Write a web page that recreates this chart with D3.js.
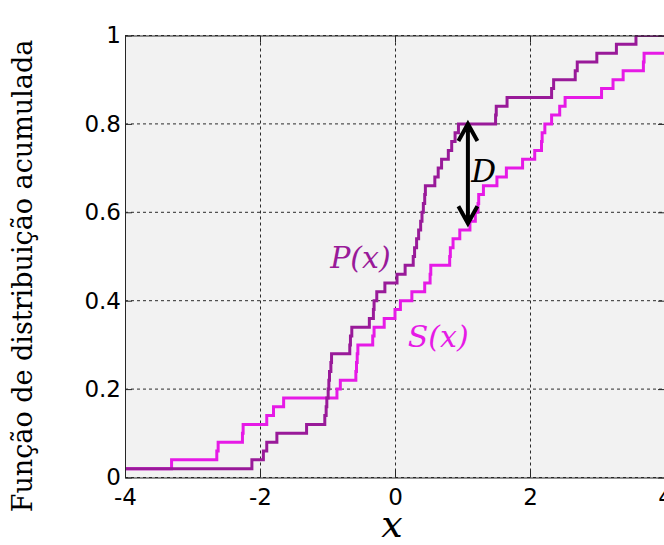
<!DOCTYPE html>
<html>
<head>
<meta charset="utf-8">
<script src="https://cdn.jsdelivr.net/npm/d3@7"></script>
<style>
  body { margin: 0; background: #fff; }
  svg { display: block; }
  .tick text { font-family: "DejaVu Sans", sans-serif; font-size: 23px; fill: #000; }
  .domain { stroke: #262626; }
  .tick line { stroke: #262626; }
</style>
</head>
<body>
<svg id="cdf"></svg>
<script>
var xTicks = [-4, -2, 0, 2, 4];
var xTickLabels = ["-4", "-2", "0", "2", "4"];
var yTicks = [0, 0.2, 0.4, 0.6, 0.8, 1];
var yTickLabels = ["0", "0.2", "0.4", "0.6", "0.8", "1"];

// P(x): where the step goes up, and the level after it
var pJumps = [-4, -2.12, -1.95, -1.90, -1.75, -1.31, -1.04, -1.02, -1.01, -0.99,
  -0.98, -0.97, -0.95, -0.94, -0.67, -0.66, -0.64, -0.38, -0.32, -0.31,
  -0.27, -0.15, 0.03, 0.15, 0.27, 0.29, 0.32, 0.35, 0.38, 0.40,
  0.42, 0.44, 0.45, 0.59, 0.64, 0.69, 0.79, 0.84, 0.89, 0.94,
  1.49, 1.50, 1.66, 2.32, 2.35, 2.67, 2.70, 2.99, 3.28, 3.57, 4];
var pLevels = [0.02, 0.04, 0.06, 0.08, 0.10, 0.12, 0.14, 0.16, 0.18, 0.20,
  0.22, 0.24, 0.26, 0.28, 0.30, 0.32, 0.34, 0.36, 0.38, 0.40,
  0.42, 0.44, 0.46, 0.48, 0.50, 0.52, 0.54, 0.56, 0.58, 0.60,
  0.62, 0.64, 0.66, 0.68, 0.70, 0.72, 0.74, 0.76, 0.78, 0.80,
  0.82, 0.84, 0.86, 0.88, 0.90, 0.92, 0.94, 0.96, 0.98, 1.00, 1.00];

// S(x)
var sJumps = [-4, -3.31, -2.64, -2.62, -2.26, -2.25, -1.90, -1.80, -1.65, -0.86,
  -0.81, -0.58, -0.57, -0.56, -0.55, -0.33, -0.31, -0.16, 0.00, 0.08,
  0.25, 0.44, 0.52, 0.53, 0.81, 0.82, 0.86, 0.96, 1.11, 1.19,
  1.23, 1.24, 1.31, 1.51, 1.65, 1.89, 2.07, 2.17, 2.18, 2.22,
  2.32, 2.44, 2.52, 3.06, 3.23, 3.38, 3.68, 3.69, 4];
var sLevels = [0.02, 0.04, 0.06, 0.08, 0.10, 0.12, 0.14, 0.16, 0.18, 0.20,
  0.22, 0.24, 0.26, 0.28, 0.30, 0.32, 0.34, 0.36, 0.38, 0.40,
  0.42, 0.44, 0.46, 0.48, 0.50, 0.52, 0.54, 0.56, 0.58, 0.60,
  0.62, 0.64, 0.66, 0.68, 0.70, 0.72, 0.74, 0.76, 0.78, 0.80,
  0.82, 0.84, 0.86, 0.88, 0.90, 0.92, 0.94, 0.96, 0.96];

// the D arrow: x position, lower and upper end
var dX = 1.08, dLow = 0.575, dHigh = 0.80;

var width = 664, height = 545;
var pColor = "#991a99", sColor = "#e61ae6";

var x = d3.scaleLinear().domain([-4, 4]).range([125, 665]),
    y = d3.scaleLinear().domain([0, 1]).range([477.5, 35.5]);

var svg = d3.select('#cdf')
    .attr('width', width)
    .attr('height', height);

svg.append('defs').append('clipPath').attr('id', 'plotClip')
  .append('rect')
    .attr('x', x(-4)).attr('y', y(1))
    .attr('width', x(4) - x(-4)).attr('height', y(0) - y(1));

svg.append('rect')
    .attr('x', x(-4)).attr('y', y(1))
    .attr('width', x(4) - x(-4)).attr('height', y(0) - y(1))
    .attr('fill', '#f2f2f2');

// dotted grid
var grid = svg.append('g')
    .attr('stroke', '#2b2b2b')
    .attr('stroke-width', 1)
    .attr('stroke-dasharray', '3,3');

grid.selectAll('.vgrid')
    .data(xTicks)
  .enter().append('line')
    .attr('x1', function(d) { return Math.round(x(d)) + 0.5; })
    .attr('x2', function(d) { return Math.round(x(d)) + 0.5; })
    .attr('y1', y(0)).attr('y2', y(1));

grid.selectAll('.hgrid')
    .data(yTicks)
  .enter().append('line')
    .attr('y1', function(d) { return y(d); })
    .attr('y2', function(d) { return y(d); })
    .attr('x1', x(-4)).attr('x2', x(4));

var line = d3.line()
    .x(function(d) { return x(d[0]); })
    .y(function(d) { return y(d[1]); })
    .curve(d3.curveStepAfter);

function steps(jumps, levels) {
  return jumps.map(function(j, i) { return [j, levels[i]]; });
}

var curves = svg.append('g').attr('clip-path', 'url(#plotClip)');

curves.append('path')
    .attr('d', line(steps(sJumps, sLevels)))
    .attr('fill', 'none')
    .attr('stroke', sColor)
    .attr('stroke-width', 3);

curves.append('path')
    .attr('d', line(steps(pJumps, pLevels)))
    .attr('fill', 'none')
    .attr('stroke', pColor)
    .attr('stroke-width', 3);

// axes, ticks pointing inward
svg.append('g')
    .attr('transform', 'translate(0,' + y(0) + ')')
    .call(d3.axisBottom(x).tickValues(xTicks)
      .tickFormat(function(d, i) { return xTickLabels[i]; })
      .tickSize(-7).tickSizeOuter(0).tickPadding(11));

svg.append('g')
    .attr('transform', 'translate(' + x(-4) + ',0)')
    .call(d3.axisLeft(y).tickValues(yTicks)
      .tickFormat(function(d, i) { return yTickLabels[i]; })
      .tickSize(-7).tickSizeOuter(0).tickPadding(4));

svg.append('g')
    .attr('transform', 'translate(0,' + y(1) + ')')
    .call(d3.axisTop(x).tickValues(xTicks).tickFormat('')
      .tickSize(-7).tickSizeOuter(0));

svg.append('g')
    .attr('transform', 'translate(' + x(4) + ',0)')
    .call(d3.axisRight(y).tickValues(yTicks).tickFormat('')
      .tickSize(-7).tickSizeOuter(0));

// double arrow for D
var ax = x(dX), yTop = y(dHigh), yBot = y(dLow);
var arrow = d3.path();
arrow.moveTo(ax, yTop + 2); arrow.lineTo(ax, yBot - 2);
arrow.moveTo(ax - 9.5, yTop + 17); arrow.lineTo(ax, yTop); arrow.lineTo(ax + 9.5, yTop + 17);
arrow.moveTo(ax - 9.5, yBot - 17); arrow.lineTo(ax, yBot); arrow.lineTo(ax + 9.5, yBot - 17);

svg.append('path')
    .attr('d', arrow.toString())
    .attr('fill', 'none')
    .attr('stroke', '#000')
    .attr('stroke-width', 4)
    .attr('stroke-linejoin', 'miter');

// annotations
svg.append('text')
    .attr('x', x(-0.96)).attr('y', y(0.474))
    .attr('font-family', '"DejaVu Serif", serif')
    .attr('font-style', 'italic')
    .attr('font-size', 30)
    .attr('fill', pColor)
    .text('P(x)');

svg.append('text')
    .attr('x', x(0.19)).attr('y', y(0.295))
    .attr('font-family', '"DejaVu Serif", serif')
    .attr('font-style', 'italic')
    .attr('font-size', 30)
    .attr('fill', sColor)
    .text('S(x)');

svg.append('text')
    .attr('x', x(1.13)).attr('y', y(0.669))
    .attr('font-family', '"DejaVu Serif", serif')
    .attr('font-style', 'italic')
    .attr('font-size', 31)
    .attr('fill', '#000')
    .text('D');

// axis titles
svg.append('text')
    .attr('x', 392).attr('y', 537)
    .attr('text-anchor', 'middle')
    .attr('font-family', '"DejaVu Serif", serif')
    .attr('font-style', 'italic')
    .attr('font-size', 38)
    .text('x');

svg.append('text')
    .attr('transform', 'translate(32,276) rotate(-90)')
    .attr('text-anchor', 'middle')
    .attr('font-family', '"DejaVu Serif", serif')
    .attr('font-size', 27)
    .text('Função de distribuição acumulada');
</script>
</body>
</html>
